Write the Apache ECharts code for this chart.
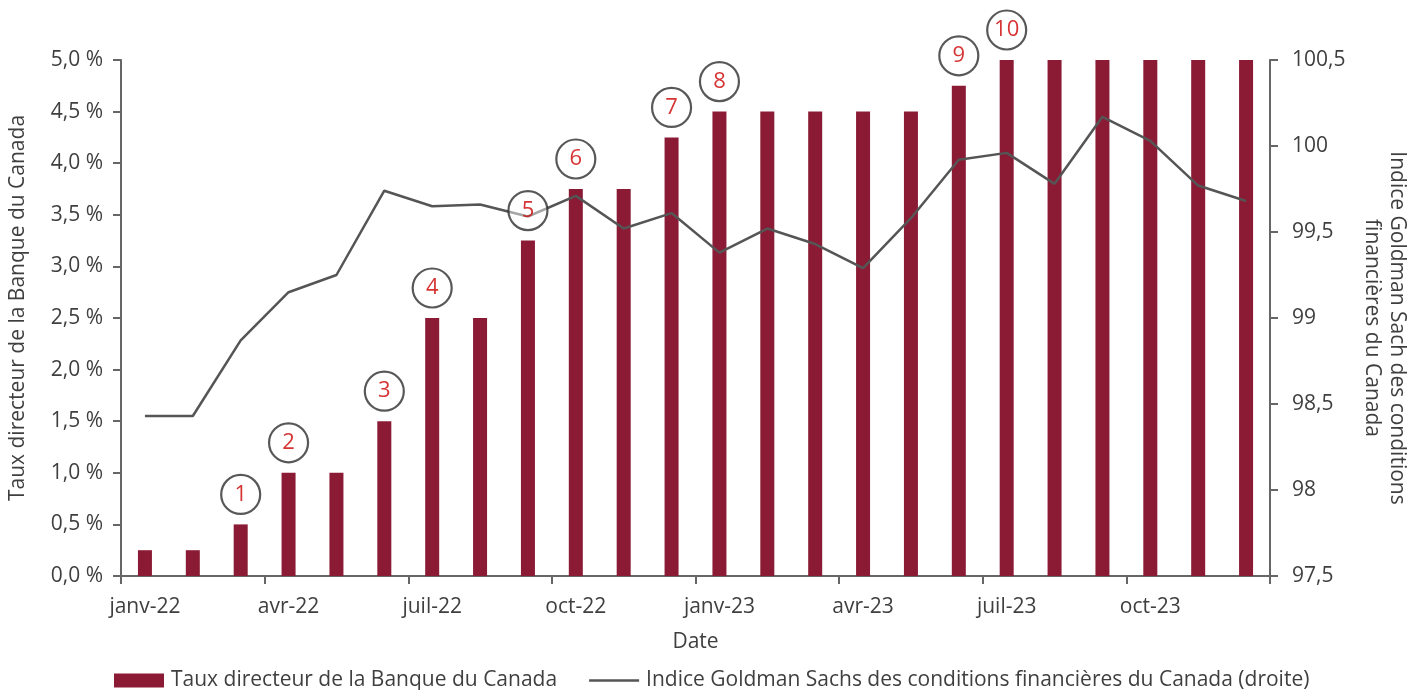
<!DOCTYPE html>
<html>
<head>
<meta charset="utf-8">
<script src="https://cdn.jsdelivr.net/npm/echarts@6/dist/echarts.min.js"></script>
<style>
html,body{margin:0;padding:0;background:#fff;}
#chart{width:1424px;height:690px;}
</style>
</head>
<body>
<div id="chart"></div>
<script>
const categories = [
  'janv-22','févr-22','mars-22','avr-22','mai-22','juin-22','juil-22','août-22','sept-22','oct-22','nov-22','déc-22',
  'janv-23','févr-23','mars-23','avr-23','mai-23','juin-23','juil-23','août-23','sept-23','oct-23','nov-23','déc-23'
];
const policyRate = [0.25,0.25,0.5,1.0,1.0,1.5,2.5,2.5,3.25,3.75,3.75,4.25,4.5,4.5,4.5,4.5,4.5,4.75,5,5,5,5,5,5];
const gsIndex = [98.43,98.43,98.87,99.15,99.25,99.74,99.65,99.66,99.59,99.71,99.52,99.61,
                 99.38,99.52,99.43,99.29,99.58,99.92,99.96,99.78,100.17,100.03,99.77,99.68];
const hikeMarks = ['','','1','2','','3','4','','5','6','','7','8','','','','','9','10','','','','',''];
const leftTicks = {min:0, max:5, interval:0.5};
const rightTicks = {min:97.5, max:100.5, interval:0.5};

const FONT = '"Open Sans", Lato, sans-serif';
const TXT = '#3f3f3f';
const AX = '#666666';
const BAR = '#8B1A35';
const FS = 21;

const markData = hikeMarks.map((m,i) => m ? {value:[i, policyRate[i]], name:m} : {value:[i, '-']});

const chart = echarts.init(document.getElementById('chart'));
chart.setOption({
  animation:false,
  textStyle:{fontFamily:FONT},
  grid:{left:121, right:154, top:60, bottom:114, containLabel:false},
  legend:{
    left:109, top:665,
    itemWidth:50, itemHeight:14, itemGap:32,
    textStyle:{fontFamily:FONT, fontSize:FS, color:TXT, padding:[0,0,0,2]},
    data:[
      {name:'Taux directeur de la Banque du Canada', icon:'rect'},
      {name:'Indice Goldman Sachs des conditions financières du Canada (droite)', icon:'path://M0,0 h50 v2.5 h-50 z'}
    ]
  },
  xAxis:{
    type:'category', data:categories, boundaryGap:true,
    name:'Date', nameLocation:'middle', nameGap:56,
    nameTextStyle:{fontFamily:FONT, fontSize:FS, color:TXT},
    axisLine:{lineStyle:{color:AX, width:2}},
    axisTick:{show:true, interval:2, length:8, lineStyle:{color:AX, width:2}},
    axisLabel:{interval:2, margin:21, fontFamily:FONT, fontSize:FS, color:TXT},
    splitLine:{show:false}
  },
  yAxis:[
    {
      type:'value', position:'left', min:leftTicks.min, max:leftTicks.max, interval:leftTicks.interval,
      name:'Taux directeur de la Banque du Canada', nameLocation:'middle', nameGap:92, nameRotate:90,
      nameTextStyle:{fontFamily:FONT, fontSize:FS, color:TXT, padding:[0,0,0,20]},
      axisLine:{show:true, lineStyle:{color:AX, width:2}},
      axisTick:{show:true, length:8, lineStyle:{color:AX, width:2}},
      axisLabel:{margin:18, fontFamily:FONT, fontSize:FS, color:TXT,
        formatter:v => v.toFixed(1).replace('.', ',') + ' %'},
      splitLine:{show:false}
    },
    {
      type:'value', position:'right', min:rightTicks.min, max:rightTicks.max, interval:rightTicks.interval,
      name:'Indice Goldman Sach des conditions\nfinancières du Canada', nameLocation:'middle', nameGap:89, nameRotate:-90,
      nameTextStyle:{fontFamily:FONT, fontSize:FS, color:TXT, lineHeight:25, padding:[0,0,0,20]},
      axisLine:{show:true, lineStyle:{color:AX, width:2}},
      axisTick:{show:true, length:8, lineStyle:{color:AX, width:2}},
      axisLabel:{margin:22, fontFamily:FONT, fontSize:FS, color:TXT,
        formatter:v => (Math.round(v*10)/10).toString().replace('.', ',')},
      splitLine:{show:false}
    }
  ],
  series:[
    {
      name:'Taux directeur de la Banque du Canada',
      type:'bar', yAxisIndex:0, data:policyRate, barWidth:14,
      itemStyle:{color:BAR}, z:2
    },
    {
      name:'Indice Goldman Sachs des conditions financières du Canada (droite)',
      type:'line', yAxisIndex:1, data:gsIndex, symbol:'none',
      lineStyle:{color:'#555555', width:2.5}, itemStyle:{color:'#555555'}, z:3
    },
    {
      name:'marks', type:'scatter', yAxisIndex:0, data:markData,
      symbol:'circle', symbolSize:39, symbolOffset:[0,-30],
      itemStyle:{color:'rgba(255,255,255,0.6)', borderColor:'#2e2e2e', borderWidth:2.2},
      label:{show:true, position:'inside', formatter:p => p.name,
        color:'#cc0000', fontFamily:FONT, fontSize:22},
      emphasis:{disabled:true}, z:10, silent:true
    }
  ]
});
</script>
</body>
</html>
